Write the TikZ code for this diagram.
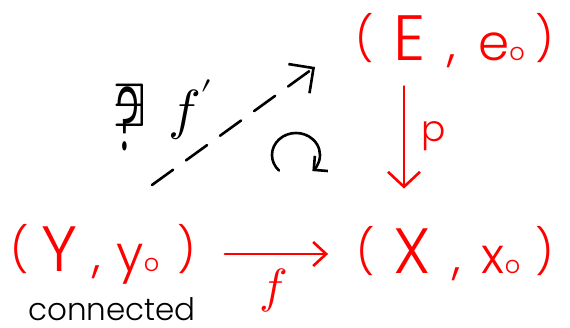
\documentclass[tikz,border=0pt]{standalone}
\usepackage{fontspec}
\usepackage{unicode-math}
\newfontfamily\hand{Poppins Light}
\usetikzlibrary{arrows.meta}
\definecolor{hred}{RGB}{255,0,0}
\newcommand\capsz{\fontsize{64}{64}\selectfont}
\newcommand\lcsz{\fontsize{50}{50}\selectfont}
\newcommand\subsz{\fontsize{24}{24}\selectfont}
\newcommand\parsz{\fontsize{44}{44}\selectfont}
\newcommand\hpL{\raisebox{6pt}{\parsz(}}
\newcommand\hpR{\raisebox{6pt}{\parsz)}}
\newcommand\robj[5]{\hpL\hspace{#3}{\capsz #1}\hspace{#4}{\lcsz ,}\hspace{#4}{\lcsz #2}{\subsz o}\hspace{#5}\hpR}
\begin{document}
\begin{tikzpicture}[x=1pt,y=-1pt,
  obj/.style={text=hred, font=\hand, inner sep=0pt},
  lbl/.style={inner sep=0pt},
  redarr/.style={draw=hred, line width=2.6pt, line cap=round},
  blk/.style={draw=black, line width=2.6pt, line cap=round}
]
\useasboundingbox (0,0) rectangle (570,328);
\node[obj] (E) at (455,41) {\robj{E}{e}{19pt}{22pt}{11pt}};
\node[obj] (X) at (455,254) {\robj{X}{x}{19pt}{21pt}{15pt}};
\node[obj] (Y) at (103,254) {\robj{Y}{y}{13pt}{15pt}{18pt}};
\node[lbl, anchor=base, font=\hand\fontsize{31}{31}\selectfont] (conn) at (112,321) {connected};
\node[lbl, text=hred, font=\fontsize{48}{48}\selectfont] (flab) at (273,291) {$f$};
\node[lbl, text=hred, font=\hand\fontsize{36}{36}\selectfont] (plab) at (434,136) {p};
\node[lbl, font=\fontsize{62}{62}\selectfont] (ex) at (130,105) {$\exists$};
\node[lbl, font=\hand\fontsize{90}{90}\selectfont] (q) at (128,119) {\scalebox{0.5}[1]{?}};
\node[lbl, font=\fontsize{55}{55}\selectfont] (fp) at (191,110) {$f'$};
\coordinate (ds) at (152,185);
\coordinate (de) at (315,67);
\draw[blk, dash pattern=on 26pt off 16pt, -{Straight Barb[length=18pt,width=36pt]}] (ds) -- (de);
\draw[redarr, -{Straight Barb[length=13pt,width=24pt]}, shorten <=29pt, shorten >=28pt] (Y.east) -- (X.west);
\draw[redarr, -{Straight Barb[length=15pt,width=32pt]}, shorten <=18pt, shorten >=38pt] ([xshift=-51pt]E.south) -- ([xshift=-51pt]X.north);
\coordinate (rc) at (296,155);
\draw[blk, -{Straight Barb[length=10pt,width=20pt]}] (rc) ++(135:24 and 22) arc[start angle=135, end angle=407, x radius=24, y radius=22];
\end{tikzpicture}
\end{document}
